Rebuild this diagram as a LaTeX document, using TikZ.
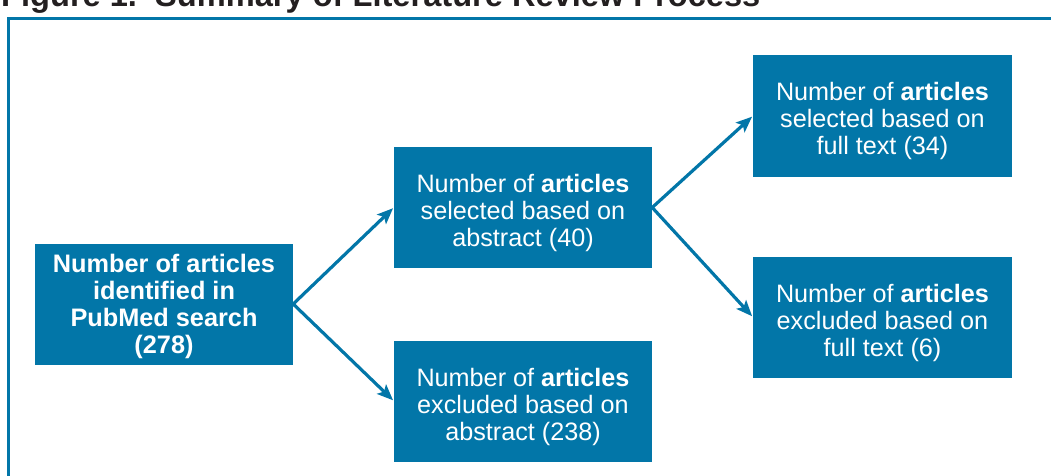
\documentclass[tikz,border=0pt]{standalone}
\usepackage{fontspec}
\setmainfont{Liberation Sans}
\usetikzlibrary{arrows.meta}
\definecolor{boxblue}{RGB}{2,118,168}
\definecolor{titlegray}{RGB}{35,31,32}
\tikzset{
  flowbox/.style={fill=boxblue, draw=none, text=white, align=center,
    minimum width=258pt, minimum height=121pt, inner sep=0pt,
    font=\fontsize{25.2}{27}\selectfont},
  flowarrow/.style={draw=boxblue, line width=3.2pt,
    -{Stealth[length=16pt,width=13pt,inset=3.5pt]}, shorten >=1pt},
  frameline/.style={draw=boxblue, line width=3pt}
}
\begin{document}
\begin{tikzpicture}[x=1pt,y=-1pt]
\useasboundingbox (0,0) rectangle (1051,476);
\clip (0,0) rectangle (1051,476);
\node[anchor=base west, inner sep=0pt, text=titlegray,
  font=\fontsize{32.6}{36}\selectfont\bfseries] (title) at (1,7)
  {Figure 1.\ \ Summary of Literature Review Process};
\draw[frameline] (8.5,18.5) rectangle (1080,500);
\node[flowbox, font=\fontsize{25.3}{27}\selectfont\bfseries] (a) at (164,304)
  {\rule{0pt}{24pt}Number of articles\\identified in\\PubMed search\\(278)};
\node[flowbox] (b) at (523,207.5)
  {\rule{0pt}{30pt}Number of \textbf{articles}\\selected based on\\abstract (40)};
\node[flowbox] (c) at (523,401)
  {\rule{0pt}{30pt}Number of \textbf{articles}\\excluded based on\\abstract (238)};
\node[flowbox, minimum width=259pt] (d) at (882.5,116)
  {\rule{0pt}{28pt}Number of \textbf{articles}\\selected based on\\full text (34)};
\node[flowbox, minimum width=259pt] (e) at (882.5,317)
  {\rule{0pt}{30pt}Number of \textbf{articles}\\excluded based on\\full text (6)};
\draw[flowarrow] (a.east) -- (b.west);
\draw[flowarrow] (a.east) -- (c.west);
\draw[flowarrow] (b.east) -- (d.west);
\draw[flowarrow] (b.east) -- (e.west);
\end{tikzpicture}
\end{document}
